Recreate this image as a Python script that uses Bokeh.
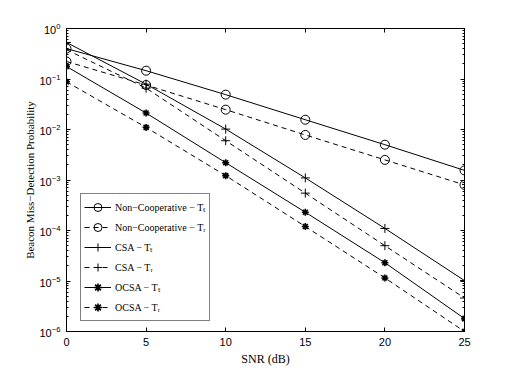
from bokeh.plotting import figure
from bokeh.models import LinearAxis, LogAxis, Legend, LegendItem, FixedTicker, Range1d
from bokeh.embed import file_html
from bokeh.resources import INLINE

snr = [0, 5, 10, 15, 20, 25]
noncoop_tt = [0.40, 0.146, 0.049, 0.0156, 0.0050, 0.00155]
noncoop_tr = [0.222, 0.076, 0.0247, 0.0078, 0.0025, 0.00080]
csa_tt = [0.53, 0.079, 0.0102, 0.0011, 0.00011, 1.02e-5]
csa_tr = [0.38, 0.066, 0.0060, 0.00055, 5.0e-5, 4.6e-6]
ocsa_tt = [0.177, 0.0212, 0.0022, 0.00023, 2.3e-5, 1.8e-6]
ocsa_tr = [0.088, 0.011, 0.00122, 0.00012, 1.15e-5, 1.0e-6]

labels = ["Non\u2212Cooperative \u2212 T\u209c", "Non\u2212Cooperative \u2212 T\u1d63",
          "CSA \u2212 T\u209c", "CSA \u2212 T\u1d63",
          "OCSA \u2212 T\u209c", "OCSA \u2212 T\u1d63"]
x_ticks = [0, 5, 10, 15, 20, 25]

p = figure(width=504, height=363, y_axis_type="log", output_backend="svg",
           toolbar_location=None, x_range=Range1d(0, 25), y_range=Range1d(1e-6, 1),
           min_border_left=66, min_border_right=40, min_border_top=28, min_border_bottom=32)
p.frame_width = 398
p.frame_height = 303
p.grid.visible = False
p.outline_line_color = "black"
p.outline_line_width = 1
p.background_fill_color = "white"
p.border_fill_color = "white"

tick_font = "Liberation Sans"
label_font = "Liberation Serif"

p.xaxis.ticker = FixedTicker(ticks=x_ticks)
p.yaxis.ticker.num_minor_ticks = 10
for ax in [p.xaxis[0], p.yaxis[0]]:
    ax.major_tick_in = 4
    ax.major_tick_out = 0
    ax.minor_tick_in = 2
    ax.minor_tick_out = 0
    ax.major_label_text_font = tick_font
    ax.major_label_text_font_size = "11px"
    ax.major_label_text_color = "black"
    ax.axis_label_text_font = label_font
    ax.axis_label_text_font_style = "normal"
    ax.axis_label_text_color = "black"
    ax.axis_line_color = "black"
p.xaxis.axis_label_text_font_size = "12px"
p.yaxis.axis_label_text_font_size = "11px"
p.xaxis.minor_tick_line_color = None
p.xaxis.axis_label = "SNR (dB)"
p.yaxis.axis_label = "Beacon Miss\u2212Detection Probability"
p.xaxis.major_label_standoff = 6
p.yaxis.major_label_standoff = 6
p.xaxis.axis_label_standoff = 3
p.yaxis.axis_label_standoff = 0

top = LinearAxis(ticker=FixedTicker(ticks=x_ticks), major_label_text_alpha=0,
                 major_label_text_font_size="8px",
                 major_tick_in=4, major_tick_out=0, minor_tick_line_color=None)
p.add_layout(top, "above")
right = LogAxis(major_label_text_alpha=0, major_label_text_font_size="8px",
                major_tick_in=4, major_tick_out=0, minor_tick_in=2, minor_tick_out=0)
right.ticker.num_minor_ticks = 10
p.add_layout(right, "right")

dash = "5 4"
series = [
    (noncoop_tt, "solid", "circle"),
    (noncoop_tr, dash, "circle"),
    (csa_tt, "solid", "cross"),
    (csa_tr, dash, "cross"),
    (ocsa_tt, "solid", "asterisk"),
    (ocsa_tr, dash, "asterisk"),
]
items = []
for (ys, ld, mk), lab in zip(series, labels):
    r1 = p.line(snr, ys, line_color="black", line_width=1, line_dash=ld)
    if mk == "circle":
        r2 = p.scatter(snr, ys, marker="circle", size=9, fill_color=None, line_color="black", line_width=1)
    elif mk == "cross":
        r2 = p.scatter(snr, ys, marker="cross", size=9, line_color="black", line_width=1)
    else:
        r2 = p.scatter(snr, ys, marker="asterisk", size=7, line_color="black", line_width=1.6)
    items.append(LegendItem(label=lab, renderers=[r1, r2]))

legend = Legend(items=items, location=(14, 10), padding=3, spacing=0,
                label_height=20, glyph_height=20, glyph_width=27, label_standoff=4,
                label_text_font=label_font, label_text_font_size="10px",
                label_text_color="black",
                border_line_color="black", border_line_width=1, margin=0,
                background_fill_alpha=1)
p.add_layout(legend, "center")

open("out.html", "w").write(file_html(p, INLINE))
